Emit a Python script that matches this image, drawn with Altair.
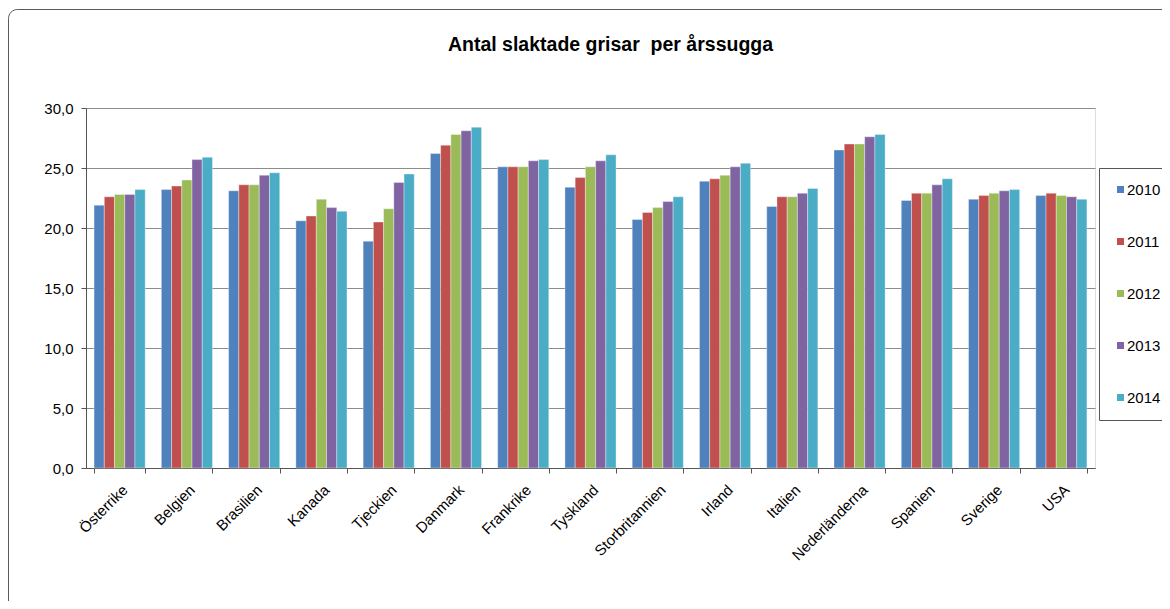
import altair as alt
import pandas as pd

countries = ["Österrike", "Belgien", "Brasilien", "Kanada", "Tjeckien", "Danmark",
             "Frankrike", "Tyskland", "Storbritannien", "Irland", "Italien",
             "Nederländerna", "Spanien", "Sverige", "USA"]
years = ["2010", "2011", "2012", "2013", "2014"]

v2010 = [21.9, 23.2, 23.1, 20.6, 18.9, 26.2, 25.1, 23.4, 20.7, 23.9, 21.8, 26.5, 22.3, 22.4, 22.7]
v2011 = [22.6, 23.5, 23.6, 21.0, 20.5, 26.9, 25.1, 24.2, 21.3, 24.1, 22.6, 27.0, 22.9, 22.7, 22.9]
v2012 = [22.8, 24.0, 23.6, 22.4, 21.6, 27.8, 25.1, 25.1, 21.7, 24.4, 22.6, 27.0, 22.9, 22.9, 22.7]
v2013 = [22.8, 25.7, 24.4, 21.7, 23.8, 28.1, 25.6, 25.6, 22.2, 25.1, 22.9, 27.6, 23.6, 23.1, 22.6]
v2014 = [23.2, 25.9, 24.6, 21.4, 24.5, 28.4, 25.7, 26.1, 22.6, 25.4, 23.3, 27.8, 24.1, 23.2, 22.4]

colors = ["#4F81BD", "#C0504D", "#9BBB59", "#8064A2", "#4BACC6"]

rows = []
for y, vals in zip(years, [v2010, v2011, v2012, v2013, v2014]):
    for c, v in zip(countries, vals):
        rows.append({"land": c, "år": y, "värde": v})
df = pd.DataFrame(rows)

FONT = "Liberation Sans"

bars = alt.Chart(df).mark_bar(stroke="#ffffff", strokeWidth=0.6, strokeOpacity=0.6).encode(
    x=alt.X("land:N", sort=countries, title=None,
            scale=alt.Scale(paddingInner=0.24, paddingOuter=0.12),
            axis=alt.Axis(labelAngle=-45, labelFontSize=15, labelFont=FONT,
                          labelColor="#000000", tickBand="extent", tickSize=5,
                          tickColor="#555555", domainColor="#555555",
                          labelPadding=9, grid=False)),
    xOffset=alt.XOffset("år:N", sort=years, scale=alt.Scale(paddingInner=0, paddingOuter=0)),
    y=alt.Y("värde:Q", title=None,
            scale=alt.Scale(domain=[0, 30], nice=False),
            axis=alt.Axis(values=[0, 5, 10, 15, 20, 25, 30],
                          labelExpr="replace(format(datum.value, '.1f'), '.', ',')",
                          labelFontSize=15, labelFont=FONT, labelColor="#000000",
                          tickSize=5, tickColor="#555555", domainColor="#555555",
                          gridColor="#8c8c8c", gridWidth=1, labelPadding=8)),
    color=alt.Color("år:N", sort=years,
                    scale=alt.Scale(domain=years, range=colors),
                    legend=alt.Legend(title=None, orient="none", legendX=1013, legendY=60,
                                      symbolType="square", symbolSize=49,
                                      symbolStrokeWidth=0,
                                      labelFontSize=15, labelFont=FONT, labelColor="#000000",
                                      rowPadding=36, padding=14,
                                      labelOffset=alt.ExprRef("-1"),
                                      strokeColor="#555555", fillColor="#ffffff")),
)

frame = alt.Chart(pd.DataFrame({"ram": [0]})).mark_rect(
    fill="#ffffff", fillOpacity=0, stroke="#5a5a5a", strokeWidth=1, cornerRadius=9
).encode(
    x=alt.value(-77.5), x2=alt.value(1100), y=alt.value(-98.5), y2=alt.value(520)
)

chart = alt.layer(frame, bars).properties(
    width=1009,
    height=360,
    title=alt.TitleParams("Antal slaktade grisar \u00a0per årssugga", fontSize=19.5, font=FONT,
                          fontWeight="bold", color="#000000", offset=-46, anchor="middle",
                          frame="group", dx=20),
    autosize=alt.AutoSizeParams(type="none"),
    padding={"left": 78, "top": 100, "right": 67, "bottom": 133},
).configure_view(
    stroke="#8c8c8c", strokeWidth=1
).configure(background="#ffffff")

chart.save("out.html", embed_options={"renderer": "svg", "actions": False})
